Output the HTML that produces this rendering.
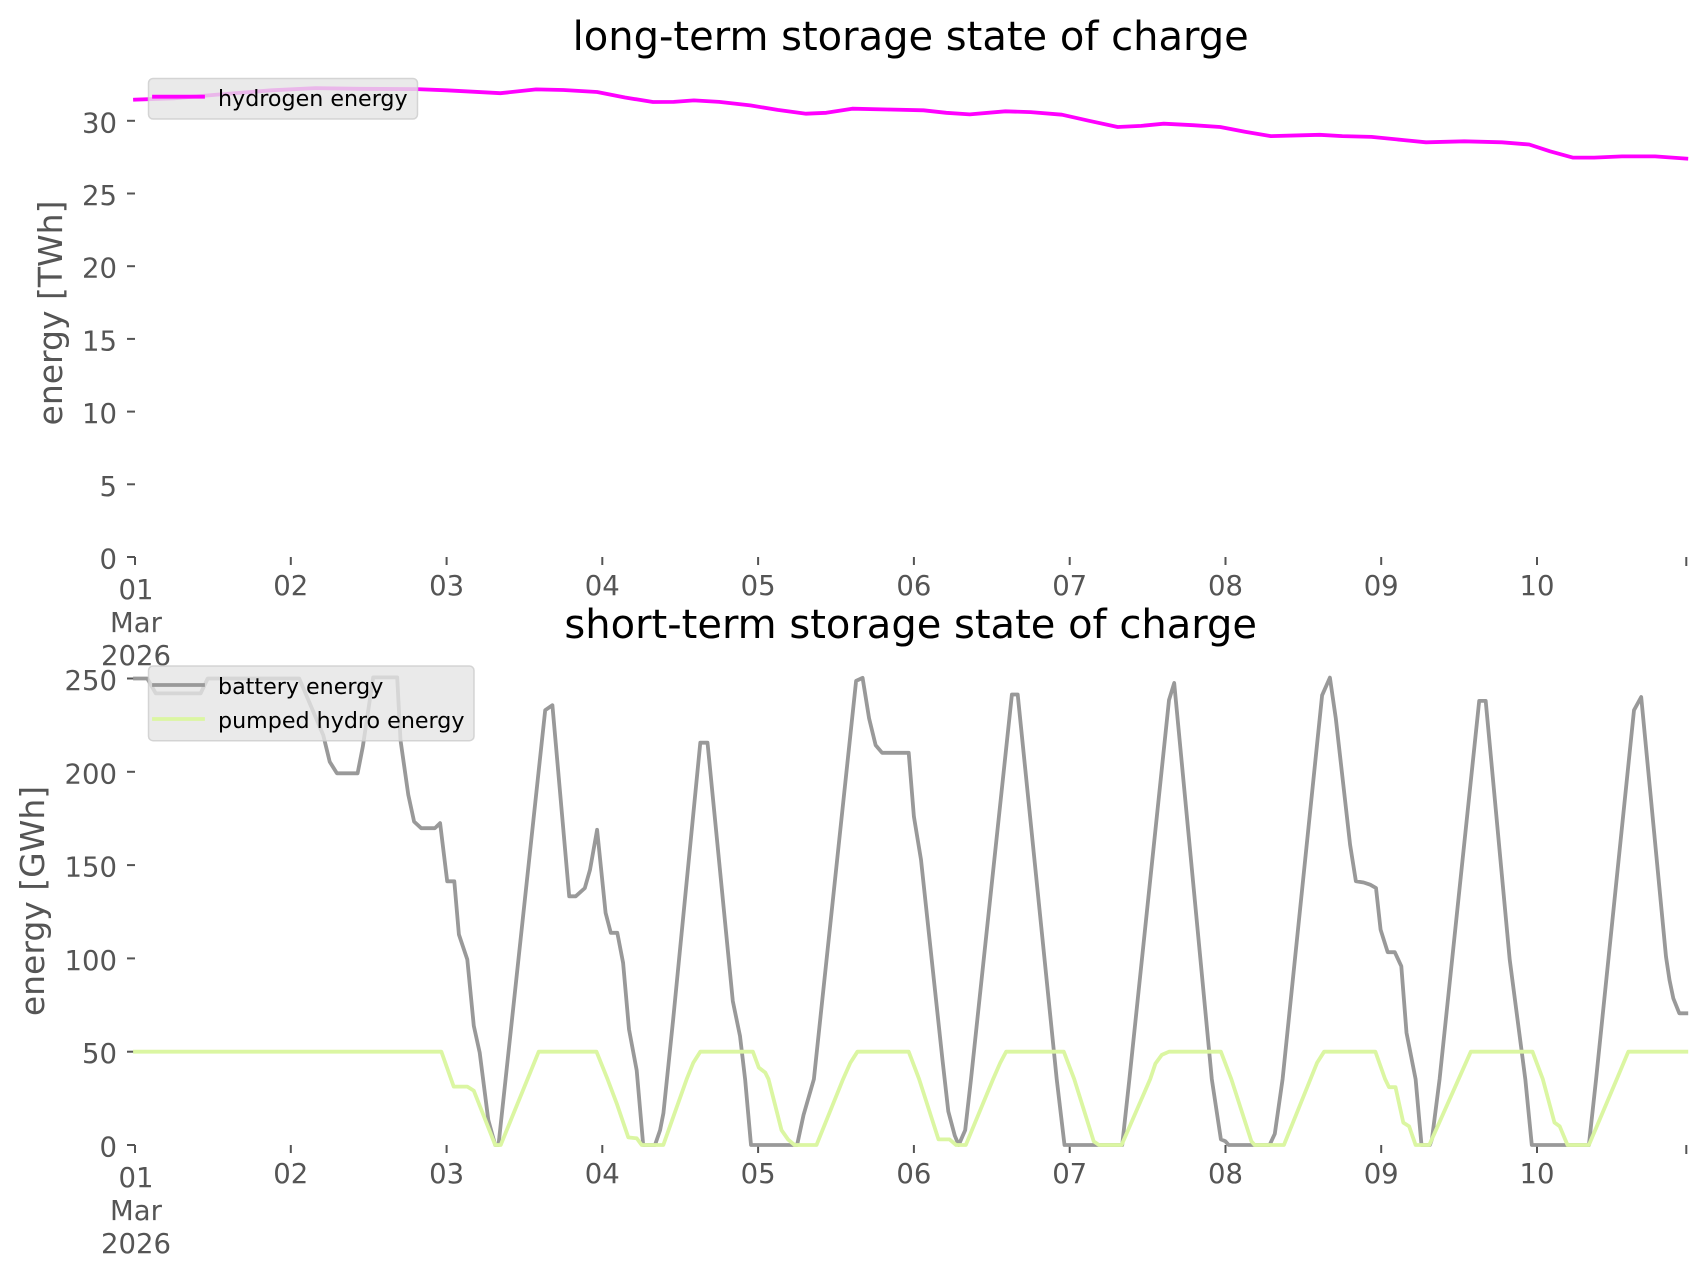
<!DOCTYPE html>
<html><head><meta charset="utf-8"><style>
html,body{margin:0;padding:0;background:#fff;}
svg{display:block;}
text{font-family:"DejaVu Sans","Liberation Sans",sans-serif;}
.tk{fill:#555555;font-size:27.5px;}
.yl{fill:#555555;font-size:33px;}
.tt{fill:#000;font-size:40px;}
.lg{fill:#000;font-size:22.2px;}
</style></head><body>
<svg width="1706" height="1277" viewBox="0 0 1706 1277" xmlns="http://www.w3.org/2000/svg">
<rect width="1706" height="1277" fill="#fff"/>

<!-- ===== TOP AXES ===== -->
<text class="tt" x="910.7" y="50" text-anchor="middle">long-term storage state of charge</text>
<g stroke="#555" stroke-width="2">
<line x1="127" y1="557" x2="135" y2="557"/>
<line x1="127" y1="484.3" x2="135" y2="484.3"/>
<line x1="127" y1="411.6" x2="135" y2="411.6"/>
<line x1="127" y1="338.9" x2="135" y2="338.9"/>
<line x1="127" y1="266.2" x2="135" y2="266.2"/>
<line x1="127" y1="193.5" x2="135" y2="193.5"/>
<line x1="127" y1="120.8" x2="135" y2="120.8"/>
<line x1="135" y1="557" x2="135" y2="565"/>
<line x1="290.8" y1="557" x2="290.8" y2="565"/>
<line x1="446.6" y1="557" x2="446.6" y2="565"/>
<line x1="602.3" y1="557" x2="602.3" y2="565"/>
<line x1="758.1" y1="557" x2="758.1" y2="565"/>
<line x1="913.9" y1="557" x2="913.9" y2="565"/>
<line x1="1069.7" y1="557" x2="1069.7" y2="565"/>
<line x1="1225.5" y1="557" x2="1225.5" y2="565"/>
<line x1="1381.2" y1="557" x2="1381.2" y2="565"/>
<line x1="1537" y1="557" x2="1537" y2="565"/>
<line x1="1686.3" y1="557" x2="1686.3" y2="566"/>
</g>
<g class="tk" text-anchor="end">
<text x="117" y="568.5">0</text>
<text x="117" y="495.8">5</text>
<text x="117" y="423.1">10</text>
<text x="117" y="350.4">15</text>
<text x="117" y="277.7">20</text>
<text x="117" y="205">25</text>
<text x="117" y="132.3">30</text>
</g>
<g class="tk" text-anchor="middle">
<text x="136" y="599">01</text>
<text x="136" y="632">Mar</text>
<text x="136" y="665">2026</text>
<text x="290.8" y="595">02</text>
<text x="446.6" y="595">03</text>
<text x="602.3" y="595">04</text>
<text x="758.1" y="595">05</text>
<text x="913.9" y="595">06</text>
<text x="1069.7" y="595">07</text>
<text x="1225.5" y="595">08</text>
<text x="1381.2" y="595">09</text>
<text x="1537" y="595">10</text>
</g>
<text class="yl" transform="translate(62,313) rotate(-90)" text-anchor="middle">energy [TWh]</text>

<polyline fill="none" stroke="#ff00ff" stroke-width="3.8" stroke-linejoin="round" stroke-linecap="square" points="135,99.7 173.9,98.3 217.4,94.6 271.3,90.3 315.4,88.1 358.9,88.8 416.7,89.1 446.6,90.3 472.5,91.7 500.4,93.2 536.1,89.4 563.4,90.0 597.1,92.0 625.0,97.5 653.0,102.0 673.7,101.9 693.9,100.4 719.2,101.9 750.3,105.4 777.6,109.9 806.1,113.7 826.3,112.8 852.2,108.7 887.9,109.5 923.6,110.3 946.3,112.8 969.7,114.4 1005.4,111.3 1030.7,112.1 1061.9,114.7 1089.1,120.8 1117.7,127.0 1141.1,125.9 1163.8,123.7 1193.0,125.2 1220.2,127.0 1244.9,131.7 1270.9,136.1 1300.7,135.3 1319.6,134.8 1342.3,136.1 1371.5,136.9 1403.9,140.1 1426.0,142.3 1464.3,141.3 1502.0,142.3 1529.2,144.5 1550.0,151.3 1572.7,157.6 1594.1,157.6 1622.0,156.4 1655.1,156.4 1686.3,158.6"/>

<!-- top legend -->
<rect x="148.5" y="78.5" width="269" height="40.5" rx="4.5" ry="4.5" fill="#e5e5e5" fill-opacity="0.8" stroke="#cccccc" stroke-opacity="0.8" stroke-width="1.5"/>
<line x1="154" y1="96.7" x2="203" y2="96.7" stroke="#ff00ff" stroke-width="3.8" stroke-linecap="square"/>
<text class="lg" x="218" y="106">hydrogen energy</text>

<!-- ===== BOTTOM AXES ===== -->
<text class="tt" x="910.7" y="638" text-anchor="middle">short-term storage state of charge</text>
<g stroke="#555" stroke-width="2">
<line x1="127" y1="1145" x2="135" y2="1145"/>
<line x1="127" y1="1051.7" x2="135" y2="1051.7"/>
<line x1="127" y1="958.4" x2="135" y2="958.4"/>
<line x1="127" y1="865.1" x2="135" y2="865.1"/>
<line x1="127" y1="771.8" x2="135" y2="771.8"/>
<line x1="127" y1="678.5" x2="135" y2="678.5"/>
<line x1="135" y1="1145" x2="135" y2="1153"/>
<line x1="290.8" y1="1145" x2="290.8" y2="1153"/>
<line x1="446.6" y1="1145" x2="446.6" y2="1153"/>
<line x1="602.3" y1="1145" x2="602.3" y2="1153"/>
<line x1="758.1" y1="1145" x2="758.1" y2="1153"/>
<line x1="913.9" y1="1145" x2="913.9" y2="1153"/>
<line x1="1069.7" y1="1145" x2="1069.7" y2="1153"/>
<line x1="1225.5" y1="1145" x2="1225.5" y2="1153"/>
<line x1="1381.2" y1="1145" x2="1381.2" y2="1153"/>
<line x1="1537" y1="1145" x2="1537" y2="1153"/>
<line x1="1686.3" y1="1145" x2="1686.3" y2="1154"/>
</g>
<g class="tk" text-anchor="end">
<text x="117" y="1156.5">0</text>
<text x="117" y="1063.2">50</text>
<text x="117" y="969.9">100</text>
<text x="117" y="876.6">150</text>
<text x="117" y="783.3">200</text>
<text x="117" y="690">250</text>
</g>
<g class="tk" text-anchor="middle">
<text x="136" y="1187">01</text>
<text x="136" y="1220">Mar</text>
<text x="136" y="1253">2026</text>
<text x="290.8" y="1183">02</text>
<text x="446.6" y="1183">03</text>
<text x="602.3" y="1183">04</text>
<text x="758.1" y="1183">05</text>
<text x="913.9" y="1183">06</text>
<text x="1069.7" y="1183">07</text>
<text x="1225.5" y="1183">08</text>
<text x="1381.2" y="1183">09</text>
<text x="1537" y="1183">10</text>
</g>
<text class="yl" transform="translate(44,901) rotate(-90)" text-anchor="middle">energy [GWh]</text>

<polyline fill="none" stroke="#999999" stroke-width="3.8" stroke-linejoin="round" stroke-linecap="square" points="135,678.5 147.3,678.5 155.8,693.4 200.6,693.4 207.7,678.5 299.2,678.5 323.2,735.0 329.7,761.7 336.9,773.3 357.6,773.3 362.8,746.8 373.2,677.4 397.2,677.4 400.5,740.1 408.3,794.9 414.1,821.6 421.2,828.2 434.9,828.2 440.1,823.1 447.2,881.3 454.3,881.3 458.9,934.5 467.3,959.5 473.8,1025.9 479.7,1052.6 488.3,1120.0 495.2,1145 498.5,1145 505.6,1079.1 545.2,710.2 552.4,705.2 569.2,896.3 575.7,896.3 584.8,888.1 590.0,869.8 597.1,829.8 605.6,912.9 610.8,932.8 617.3,932.8 623.1,962.9 629.0,1029.3 636.7,1070.4 643.2,1145 655.0,1145 660.1,1130.1 663.4,1113.3 673.1,1020 700.3,742.7 707.5,742.7 732.8,1001.1 740.0,1036.0 745.1,1079.1 751.0,1145 797.1,1145 803.5,1115.1 813.9,1079.1 856.1,680.9 862.6,677.9 869.1,718.4 875.6,745.1 882.1,752.8 908.7,752.8 913.9,816.6 921.0,859.7 942.4,1059.2 948.3,1111.4 954.8,1135.7 958.7,1145 965.2,1130.1 971.0,1079.1 1011.9,694.5 1017.7,694.5 1056.7,1079.1 1064.5,1145 1122.2,1145 1129.4,1079.1 1169.0,700.1 1174.2,683.0 1211.8,1079.1 1220.9,1139.4 1225.4,1141.3 1228.7,1145 1269.6,1145 1274.8,1133.8 1282.6,1079.1 1322.1,695.3 1329.9,677.6 1335.8,718.4 1350.1,844.8 1355.9,881.3 1363.7,882.5 1370.2,884.7 1376.0,888.0 1380.6,929.7 1387.7,952.2 1394.8,952.2 1401.3,966.2 1406.5,1032.7 1415.6,1079.1 1421.5,1145 1429.9,1145 1431.9,1139.4 1439.6,1079.1 1479.2,700.9 1485.7,700.9 1509.7,959.5 1525.3,1079.1 1531.8,1145 1588.9,1145 1596.1,1079.1 1634.0,710.2 1641.2,697.0 1666.0,956.7 1669.5,980.0 1673.3,998.3 1679.3,1013.3 1686.3,1013.3"/>

<polyline fill="none" stroke="#dbf6a2" stroke-width="3.8" stroke-linejoin="round" stroke-linecap="square" points="135,1051.7 441.4,1051.7 453.7,1086.6 467.3,1086.6 473.8,1090.7 495.2,1145 500.7,1145 538.7,1051.7 596.5,1051.7 607.5,1079.1 616.7,1103.4 628.3,1137.4 636.7,1138.3 641.7,1145 663.3,1145 686.7,1079.1 693.2,1062.9 700.3,1051.7 752.9,1051.7 758.8,1067.6 765.3,1072.6 768.5,1079.1 781.5,1130.1 788.0,1139.4 794.5,1145 816.5,1145 843.1,1079.1 850.3,1062.9 857.4,1051.7 908.7,1051.7 919.1,1079.1 938.5,1139.4 949.6,1139.4 956.1,1145 965.8,1145 993.1,1079.1 1000.2,1062.9 1006.1,1051.7 1063.8,1051.7 1074.2,1079.1 1093.7,1141.3 1098.9,1145 1121.6,1145 1150.2,1079.1 1155.4,1063.6 1161.8,1054.9 1169.0,1051.7 1220.9,1051.7 1231.3,1079.1 1251.4,1141.3 1254.6,1145 1283.9,1145 1310.5,1079.1 1317.0,1062.9 1324.1,1051.7 1375.4,1051.7 1385.1,1079.1 1389.0,1087.2 1395.5,1087.2 1403.3,1122.6 1409.1,1126.3 1415.6,1145 1429.3,1145 1470.8,1051.7 1532.5,1051.7 1542.8,1079.1 1554.5,1122.6 1559.7,1126.3 1567.5,1145 1588.9,1145 1616.8,1079.1 1628.3,1051.7 1686.3,1051.7"/>

<!-- bottom legend -->
<rect x="148.5" y="666" width="325.5" height="74.7" rx="4.5" ry="4.5" fill="#e5e5e5" fill-opacity="0.8" stroke="#cccccc" stroke-opacity="0.8" stroke-width="1.5"/>
<line x1="154" y1="685" x2="203" y2="685" stroke="#999999" stroke-width="3.8" stroke-linecap="square"/>
<text class="lg" x="218" y="694">battery energy</text>
<line x1="154" y1="719" x2="203" y2="719" stroke="#dbf6a2" stroke-width="3.8" stroke-linecap="square"/>
<text class="lg" x="218" y="728">pumped hydro energy</text>
</svg>
</body></html>
